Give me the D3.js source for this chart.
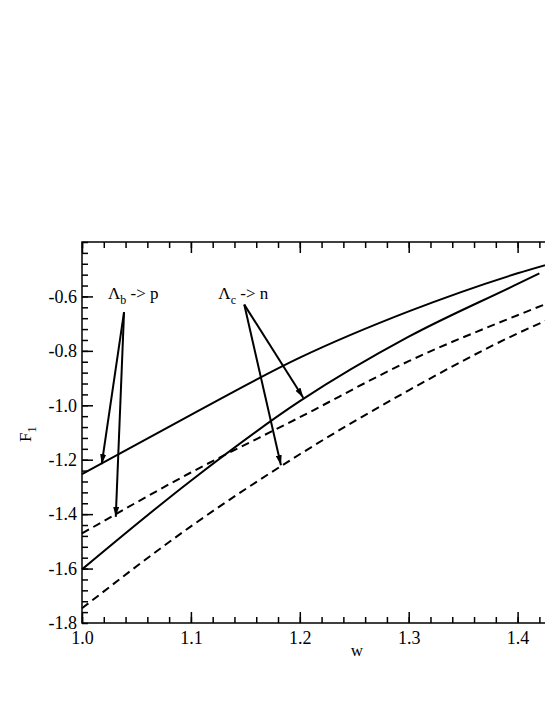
<!DOCTYPE html>
<html>
<head>
<meta charset="utf-8">
<script src="https://cdn.jsdelivr.net/npm/d3@7"></script>
<style>
    body { margin: 0; background: #fff; }
    svg { display: block; font-family: "Liberation Serif", "Times New Roman", serif; }
</style>
</head>
<body>
<script>
// values
const wGrid = [1.0, 1.1, 1.2, 1.3, 1.4, 1.45];
const wGridLower = [1.0, 1.1, 1.2, 1.3, 1.4, 1.42];
const solidUpper = [-1.253, -1.035, -0.825, -0.655, -0.515, -0.457];
const solidLower = [-1.603, -1.277, -0.985, -0.748, -0.554, -0.515];
const dashedUpper = [-1.471, -1.247, -1.044, -0.838, -0.669, -0.590];
const dashedLower = [-1.746, -1.445, -1.180, -0.945, -0.736, -0.648];

const xTicks = [1.0, 1.1, 1.2, 1.3, 1.4];
const yTicks = [-1.8, -1.6, -1.4, -1.2, -1.0, -0.8, -0.6];

// annotations (data coords)
const labelPos = [[1.0239, -0.611], [1.1252, -0.611]];
const labelSub = ["b", "c"];
const labelTail = [" -> p", " -> n"];
const arrowFrom = [[1.0386, -0.658], [1.0386, -0.658], [1.149, -0.630], [1.149, -0.630]];
const arrowTo = [[1.0181, -1.2165], [1.031, -1.410], [1.2032, -0.972], [1.1827, -1.220]];

(function() {
    window.onload = function() {
        const width = 545, height = 705;
        const left = 82, top = 242, bottom = 623;

        const x = d3.scaleLinear().domain([1.0, 1.5]).range([left, left + 544.5]);
        const y = d3.scaleLinear().domain([-1.8, -0.4]).range([bottom, top]);

        const svg = d3.select("body").append("svg")
            .attr("width", width)
            .attr("height", height);

        svg.append("defs").append("marker")
            .attr("id", "head")
            .attr("viewBox", "0 0 10 6")
            .attr("refX", 10).attr("refY", 3)
            .attr("markerWidth", 10).attr("markerHeight", 6)
            .attr("markerUnits", "userSpaceOnUse")
            .attr("orient", "auto")
          .append("path")
            .attr("d", "M0,0 L10,3 L0,6 Z")
            .attr("fill", "#000");

        // minor ticks every 0.02 / 0.04 (only what is inside the window)
        const xMinor = d3.range(1.0, 1.4401, 0.02);
        const yMinor = d3.range(-1.8, -0.3999, 0.04);

        const axisG = svg.append("g").attr("stroke", "#000").attr("stroke-width", 1.5);

        // bottom axis (ticks inward)
        axisG.append("g")
            .attr("transform", `translate(0,${bottom})`)
            .call(d3.axisBottom(x).tickValues(xMinor).tickSize(-6).tickFormat(""))
            .call(g => g.select(".domain").remove());
        axisG.append("g")
            .attr("transform", `translate(0,${bottom})`)
            .call(d3.axisBottom(x).tickValues(xTicks).tickSize(-11).tickPadding(8)
                .tickFormat(d3.format(".1f")))
            .call(g => g.select(".domain").remove());

        // top axis
        axisG.append("g")
            .attr("transform", `translate(0,${top})`)
            .call(d3.axisTop(x).tickValues(xMinor).tickSize(-6).tickFormat(""))
            .call(g => g.select(".domain").remove());
        axisG.append("g")
            .attr("transform", `translate(0,${top})`)
            .call(d3.axisTop(x).tickValues(xTicks).tickSize(-11).tickFormat(""))
            .call(g => g.select(".domain").remove());

        // left axis
        axisG.append("g")
            .attr("transform", `translate(${left},0)`)
            .call(d3.axisLeft(y).tickValues(yMinor).tickSize(-6).tickFormat(""))
            .call(g => g.select(".domain").remove());
        axisG.append("g")
            .attr("transform", `translate(${left},0)`)
            .call(d3.axisLeft(y).tickValues(yTicks.filter(d => d > -1.79)).tickSize(-11).tickPadding(5)
                .tickFormat(d3.format(".1f")))
            .call(g => g.select(".domain").remove());
        axisG.append("g")
            .attr("transform", `translate(${left},0)`)
            .call(d3.axisLeft(y).tickValues([-1.8]).tickSize(0).tickPadding(5)
                .tickFormat(d3.format(".1f")))
            .call(g => g.select(".domain").remove());

        axisG.selectAll("text")
            .attr("stroke", "none")
            .attr("fill", "#000")
            .attr("font-family", "Liberation Serif")
            .attr("font-size", 18)
            .text(function() { return this.textContent.replace("\u2212", "-"); });

        // frame
        svg.append("rect")
            .attr("x", left).attr("y", top)
            .attr("width", x(1.5) - left).attr("height", bottom - top)
            .attr("fill", "none").attr("stroke", "#000").attr("stroke-width", 1.5);

        // curves
        const line = d3.line()
            .x(d => x(d[0]))
            .y(d => y(d[1]))
            .curve(d3.curveMonotoneX);

        const series = [
            { w: wGrid, v: solidUpper, dash: null },
            { w: wGridLower, v: solidLower, dash: null },
            { w: wGrid, v: dashedUpper, dash: "8,5" },
            { w: wGrid, v: dashedLower, dash: "8,5" }
        ];

        svg.append("g")
            .selectAll("path")
            .data(series)
            .join("path")
                .attr("d", s => line(s.w.map((w, i) => [w, s.v[i]])))
                .attr("fill", "none")
                .attr("stroke", "#000")
                .attr("stroke-width", 2)
                .attr("stroke-dasharray", s => s.dash);

        // arrows
        svg.append("g")
            .selectAll("line")
            .data(arrowFrom.map((f, i) => [f, arrowTo[i]]))
            .join("line")
                .attr("x1", d => x(d[0][0])).attr("y1", d => y(d[0][1]))
                .attr("x2", d => x(d[1][0])).attr("y2", d => y(d[1][1]))
                .attr("stroke", "#000")
                .attr("stroke-width", 2)
                .attr("marker-end", "url(#head)");

        // labels
        const lab = svg.append("g")
            .selectAll("text")
            .data(labelPos)
            .join("text")
                .attr("x", d => x(d[0]))
                .attr("y", d => y(d[1]))
                .attr("font-size", 17);
        lab.append("tspan").text("\u039b");
        lab.append("tspan").attr("font-size", 12).attr("dy", 5).text((d, i) => labelSub[i]);
        lab.append("tspan").attr("dy", -5).text((d, i) => labelTail[i]);

        // axis titles
        svg.append("text")
            .attr("x", 357).attr("y", 656)
            .attr("text-anchor", "middle")
            .attr("font-size", 17)
            .text("w");

        const yt = svg.append("text")
            .attr("transform", "translate(31,442) rotate(-90)")
            .attr("font-size", 17);
        yt.append("tspan").text("F");
        yt.append("tspan").attr("font-size", 12).attr("dy", 5).text("1");
    };
})();
</script>
</body>
</html>
